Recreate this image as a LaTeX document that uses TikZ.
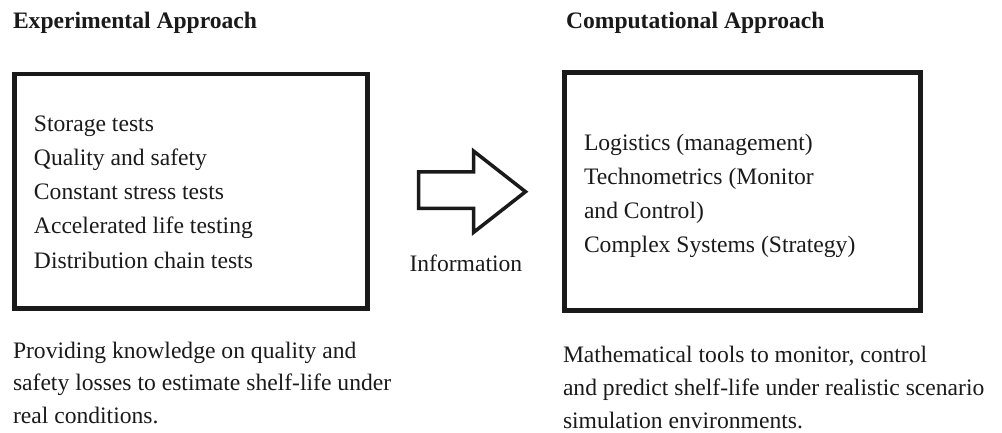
\documentclass[tikz,border=0pt]{standalone}
\usepackage{fontspec}
\setmainfont{Liberation Serif}
\definecolor{ink}{HTML}{1A1A1A}
\begin{document}
\begin{tikzpicture}[x=1pt,y=-1pt,
  txt/.style={anchor=base west,inner sep=0pt,outer sep=0pt,text=ink,font=\fontsize{23.6}{34.4}\selectfont,align=left},
  ttl/.style={txt,font=\fontsize{23.6}{34.4}\selectfont\bfseries},
  boxframe/.style={draw=ink,line width=4.5pt,fill=none},
  blockarrow/.style={draw=ink,line width=3.5pt,line join=miter,fill=white}]
\useasboundingbox (0,0) rectangle (1002,432);
% titles
\node[ttl] (t1) at (13,28) {Experimental Approach};
\node[ttl] (t2) at (566,28) {Computational Approach};
% boxes
\draw[boxframe] (14.3,74) rectangle (367.7,308.7);
\draw[boxframe] (564.3,72.7) rectangle (920.3,310.3);
% box contents
\node[txt] (l1) at (34,131) {Storage tests};
\node[txt] (l2) at (34,165.3) {Quality and safety};
\node[txt] (l3) at (34,199.6) {Constant stress tests};
\node[txt] (l4) at (34,233.9) {Accelerated life testing};
\node[txt] (l5) at (34,268.2) {Distribution chain tests};
\node[txt] (r1) at (584,150) {Logistics (management)};
\node[txt] (r2) at (584,184.3) {Technometrics (Monitor};
\node[txt] (r3) at (584,218.6) {and Control)};
\node[txt] (r4) at (584,252.9) {Complex Systems (Strategy)};
% block arrow
\draw[blockarrow] (418.5,171.8) -- (473.5,171.8) -- (473.5,151) -- (525.5,191.7)
  -- (473.5,232.4) -- (473.5,208.3) -- (418.5,208.3) -- cycle;
\node[txt] (info) at (409.5,271.5) {Information};
% captions
\node[txt] (c1) at (13,358) {Providing knowledge on quality and};
\node[txt] (c2) at (13,390.5) {safety losses to estimate shelf-life under};
\node[txt] (c3) at (13,423) {real conditions.};
\node[txt] (d1) at (563,362) {Mathematical tools to monitor, control};
\node[txt] (d2) at (563,395) {and predict shelf-life under realistic scenario};
\node[txt] (d3) at (563,428) {simulation environments.};
\end{tikzpicture}
\end{document}
